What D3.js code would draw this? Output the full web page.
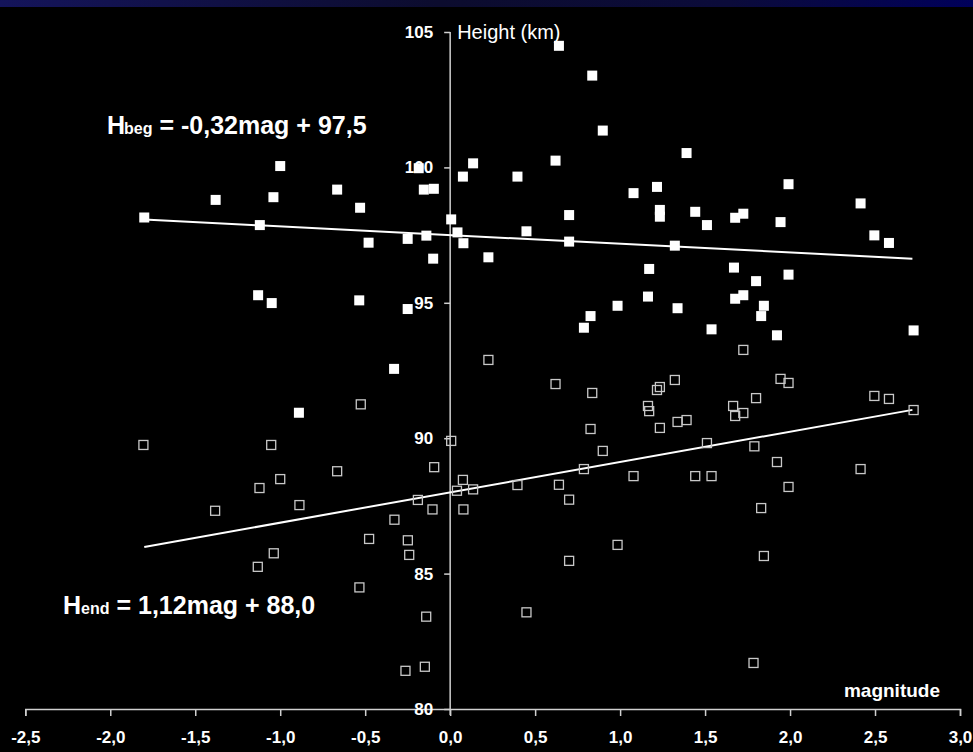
<!DOCTYPE html>
<html><head><meta charset="utf-8">
<script src="https://cdn.jsdelivr.net/npm/d3@7"></script>
<style>
html,body{margin:0;padding:0;background:#000;}
svg{display:block;}
text{font-family:"Liberation Sans",Arial,sans-serif;fill:#fff;}
</style></head>
<body>
<script>
// ---- data ----
const xTicks = [-2.5,-2.0,-1.5,-1.0,-0.5,0.0,0.5,1.0,1.5,2.0,2.5,3.0];
const yTicks = [80,85,90,95,100,105];
const begMag = [-1.80,-1.38,-1.00,-1.04,-1.12,-1.13,-1.05,-0.89,-0.665,-0.53,-0.48,-0.535,-0.33,-0.25,-0.25,-0.14,-0.155,-0.096,-0.10,-0.185,0.006,0.043,0.078,0.075,0.135,0.225,0.396,0.449,0.62,0.64,0.70,0.70,0.787,0.826,0.836,0.898,0.985,1.079,1.171,1.164,1.217,1.234,1.234,1.322,1.338,1.391,1.442,1.511,1.677,1.725,1.991,1.944,2.415,2.496,2.582,1.67,1.80,1.991,1.677,1.725,1.846,1.83,1.538,1.923,2.727];
const begH   = [98.15,98.80,100.05,98.90,97.87,95.28,94.99,90.94,99.18,98.51,97.22,95.09,92.56,97.36,94.77,97.48,99.18,99.21,96.63,99.97,98.08,97.60,97.20,99.66,100.15,96.68,99.66,97.64,100.25,104.49,97.26,98.24,94.08,94.51,103.39,101.36,94.89,99.05,96.25,95.23,99.28,98.43,98.18,97.11,94.80,100.53,98.36,97.87,98.14,98.29,99.38,97.98,98.67,97.49,97.21,96.30,95.80,96.04,95.15,95.28,94.89,94.51,94.02,93.80,93.98];
const endMag = [-1.805,-1.053,-0.526,0.006,-0.094,-0.665,-1.122,-1.00,-1.383,-0.887,-0.19,0.04,-0.104,-0.328,-0.477,-0.249,-0.241,-1.038,-1.132,-0.534,-0.141,-0.149,-0.263,0.075,0.135,0.078,0.396,0.64,0.70,0.70,0.449,0.225,0.62,0.787,0.826,0.836,0.898,0.985,1.079,1.164,1.171,1.217,1.234,1.234,1.322,1.338,1.391,1.442,1.511,1.538,1.665,1.677,1.725,1.725,1.80,1.79,1.83,1.846,1.785,1.923,1.944,1.991,1.991,2.415,2.496,2.582,2.727];
const endH   = [89.75,89.75,91.25,89.90,88.93,88.78,88.16,88.49,87.32,87.53,87.72,88.06,87.37,86.99,86.28,86.23,85.69,85.75,85.25,84.49,83.41,81.56,81.41,88.46,88.11,87.37,88.27,88.28,87.73,85.47,83.57,92.89,92.00,88.86,90.34,91.67,89.53,86.06,88.60,91.19,91.00,91.78,91.89,90.38,92.15,90.60,90.67,88.60,89.82,88.60,91.19,90.82,93.26,90.93,91.48,89.70,87.42,85.65,81.70,89.12,92.19,92.04,88.20,88.86,91.56,91.45,91.04];
const begFit = {slope:-0.32, intercept:97.5, from:-1.8, to:2.72};
const endFit = {slope:1.12, intercept:88.0, from:-1.8, to:2.72};

// ---- layout ----
const W = 973, H = 752;
const svg = d3.select("body").append("svg").attr("width",W).attr("height",H);

const defs = svg.append("defs");
const grad = defs.append("linearGradient").attr("id","topband").attr("x1","0").attr("x2","1");
grad.append("stop").attr("offset","0").attr("stop-color","#14145a");
grad.append("stop").attr("offset","0.45").attr("stop-color","#0c0c2e");
grad.append("stop").attr("offset","0.75").attr("stop-color","#0b0b3a");
grad.append("stop").attr("offset","1").attr("stop-color","#00005a");
svg.append("rect").attr("x",0).attr("y",0).attr("width",W).attr("height",7).attr("fill","url(#topband)");

const x = d3.scaleLinear().domain([-2.5,3.0]).range([25.3,960]);
const y = d3.scaleLinear().domain([80,105]).range([709,32]);

const axisColor = "#d0d0d0";
const FF = "'Liberation Sans',Arial,sans-serif";

// x axis
const xAxis = svg.append("g").attr("transform",`translate(0,${y(80)})`)
  .call(d3.axisBottom(x).tickValues(xTicks).tickSize(7).tickPadding(15)
        .tickFormat(d=>d3.format(".1f")(d).replace(".",",").replace("−","-")));
xAxis.attr("font-size",null).attr("font-family",null);
xAxis.select(".domain").attr("stroke",axisColor).attr("stroke-width",1.5);
xAxis.selectAll(".tick line").attr("stroke",axisColor).attr("stroke-width",1.5);
xAxis.selectAll(".tick text").attr("fill","#fff").style("font-size","17px").style("font-weight","bold")
  .style("font-family",FF);

// y axis
const yAxis = svg.append("g").attr("transform",`translate(${x(0)},0)`)
  .call(d3.axisLeft(y).tickValues(yTicks).tickSize(6).tickPadding(11).tickSizeOuter(0));
yAxis.attr("font-size",null).attr("font-family",null);
yAxis.select(".domain").attr("stroke",axisColor).attr("stroke-width",1.5)
  .attr("d",`M0,${y(105)}V${y(80)+6}`);
yAxis.selectAll(".tick line").attr("stroke",axisColor).attr("stroke-width",1.5);
yAxis.selectAll(".tick text").attr("fill","#fff").style("font-size","17px").style("font-weight","bold")
  .style("font-family",FF);

// axis titles
svg.append("text").attr("x",x(0)+7).attr("y",y(105)+7).style("font-size","20px")
  .text("Height (km)");
svg.append("text").attr("x",940).attr("y",697).attr("text-anchor","end")
  .style("font-size","19px").style("font-weight","bold").text("magnitude");

// regression lines
function fitLine(f){
  return [[f.from, f.slope*f.from+f.intercept],[f.to, f.slope*f.to+f.intercept]];
}
const line = d3.line().x(d=>x(d[0])).y(d=>y(d[1]));
svg.append("path").attr("d",line(fitLine(begFit))).attr("stroke","#fff").attr("stroke-width",2).attr("fill","none");
svg.append("path").attr("d",line(fitLine(endFit))).attr("stroke","#fff").attr("stroke-width",2).attr("fill","none");

// points
const s = 10;
const endPts = endMag.map((m,i)=>[m,endH[i]]);
const begPts = begMag.map((m,i)=>[m,begH[i]]);
svg.append("g").selectAll("rect").data(endPts).join("rect")
  .attr("x",d=>x(d[0])-s/2+0.5).attr("y",d=>y(d[1])-s/2+0.5)
  .attr("width",s-1).attr("height",s-1)
  .attr("fill","none").attr("stroke","#c8c8c8").attr("stroke-width",1.3);
svg.append("g").selectAll("rect").data(begPts).join("rect")
  .attr("x",d=>x(d[0])-s/2).attr("y",d=>y(d[1])-s/2)
  .attr("width",s).attr("height",s).attr("fill","#fff");

// equations
const e1 = svg.append("text").attr("x",107).attr("y",134).style("font-weight","bold").style("font-size","25px");
e1.append("tspan").text("H");
e1.append("tspan").style("font-size","16px").attr("dx",-1).text("beg");
e1.append("tspan").text(" = -0,32mag + 97,5");
const e2 = svg.append("text").attr("x",63).attr("y",614).style("font-weight","bold").style("font-size","25px");
e2.append("tspan").text("H");
e2.append("tspan").style("font-size","16px").text("end");
e2.append("tspan").text(" = 1,12mag + 88,0");
</script>
</body></html>
